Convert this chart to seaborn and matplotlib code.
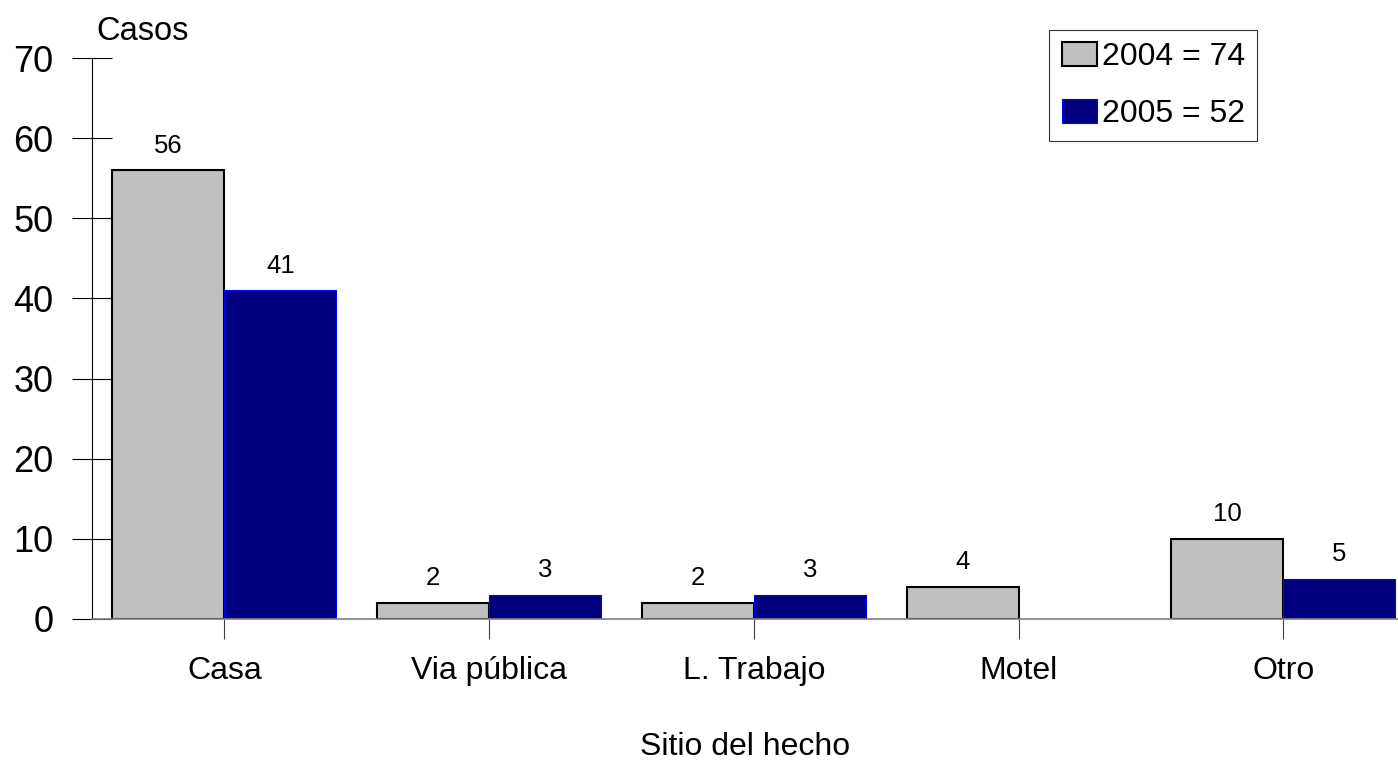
import matplotlib
matplotlib.use("Agg")
import matplotlib.pyplot as plt
from matplotlib.patches import Patch
import seaborn as sns
import pandas as pd
import numpy as np

sns.set_style("white")
plt.rcParams['font.family'] = ['Liberation Sans', 'DejaVu Sans']
plt.rcParams.update({'text.color': 'black', 'axes.labelcolor': 'black',
                     'xtick.color': 'black', 'ytick.color': 'black'})

# Data
sitios = ["Casa", "Via pública", "L. Trabajo", "Motel", "Otro"]
casos_2004 = [56, 2, 2, 4, 10]
casos_2005 = [41, 3, 3, np.nan, 5]
years = ["2004", "2005"]
legend_labels = ["2004 = 74", "2005 = 52"]

df = pd.DataFrame({
    "sitio": sitios * 2,
    "year": ["2004"] * len(sitios) + ["2005"] * len(sitios),
    "casos": casos_2004 + casos_2005,
}).dropna()

fill = {"2004": "#C0C0C0", "2005": "#000080"}
edge = {"2004": "black", "2005": "#0000FF"}
lw = {"2004": 1.5, "2005": 0.8}

fig = plt.figure(figsize=(13.98, 7.62), dpi=100)
ax = fig.add_axes([92 / 1398, 143 / 762, 1306 / 1398, 561 / 762])

sns.barplot(data=df, x="sitio", y="casos", hue="year", order=sitios, hue_order=years,
            palette=fill, width=0.846, saturation=1, legend=False, ax=ax)

for cont, yr in zip(ax.containers, years):
    for bar in cont:
        bar.set_edgecolor(edge[yr])
        bar.set_linewidth(lw[yr])
    ax.bar_label(cont, fmt="%g", padding=9, fontsize=18.5)

ax.set_xlim(-0.5, 4.433)
ax.set_ylim(0, 70)
ax.set_yticks(range(0, 71, 10))

for side in ["top", "right"]:
    ax.spines[side].set_visible(False)
ax.spines["left"].set_color("black")
ax.spines["left"].set_linewidth(0.8)
ax.spines["bottom"].set_color("#808080")
ax.spines["bottom"].set_linewidth(1.2)

ax.tick_params(axis="y", direction="inout", length=28.8, width=0.8, color="black",
               labelsize=26, pad=13.5, left=True)
ax.tick_params(axis="x", direction="out", length=14.4, width=0.8, color="#404040",
               labelsize=23, pad=12.5, bottom=True)

ax.set_xlabel("Sitio del hecho", fontsize=23, labelpad=33)
ax.set_ylabel("")
ax.text(0.003, 1.032, "Casos", transform=ax.transAxes, ha="left", va="baseline", fontsize=23.5)

handles = [Patch(facecolor=fill[y], edgecolor=edge[y], linewidth=lw[y]) for y in years]
leg = ax.legend(handles, legend_labels, loc="upper right", bbox_to_anchor=(0.892, 1.05),
                borderaxespad=0, fontsize=23, frameon=True, fancybox=False,
                handlelength=1.1, handleheight=0.75, handletextpad=0.15,
                labelspacing=0.85, borderpad=0.38)
leg.get_frame().set_edgecolor("black")
leg.get_frame().set_linewidth(0.8)

fig.savefig("out.png", dpi=100)
